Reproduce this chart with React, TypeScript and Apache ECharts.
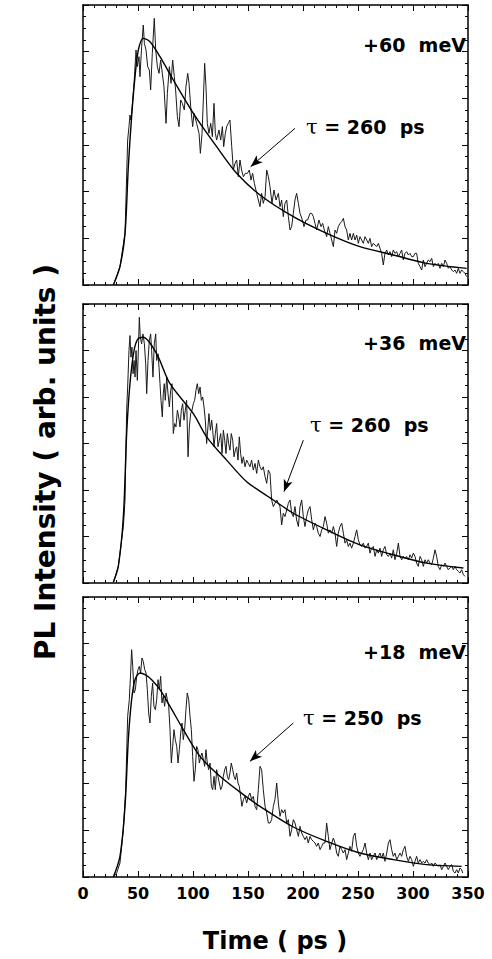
import React, { useEffect, useRef } from "react";
import * as echarts from "echarts";

// Axis ranges (time in ps, intensity in arbitrary units)
const X_MIN = 0;
const X_MAX = 350;
const X_STEP = 50;
const Y_MIN = 0;
const Y_MAX = 840;
const Y_STEP = 140;

const panelLabels = ["+60  meV", "+36  meV", "+18  meV"];
const tauLabels = ["260", "260", "250"];

// +60 meV : measured PL transient [time ps, intensity]
const data60: number[][] = [
  [27.6,0],[33.6,55],[38.2,155],[40.6,435],[41.8,475],[42.7,510],[43.6,495],[45.2,555],[46.4,605],[48.2,705],[49.4,655],[50.9,685],[51.8,625],[53.3,715],[54.8,780],[55.8,725],[57.3,705],[58.8,655],[60.3,645],[61.5,585],[63,695],[64.8,800],[66.1,705],[67.6,655],[69.1,635],[70.6,675],[72.1,635],[73.6,595],[75.5,485],[76.7,575],[78.5,655],[80,605],[81.5,675],[83,625],[84.2,585],[85.8,505],[87.3,475],[88.8,555],[90.3,545],[92.1,525],[93.6,595],[95.2,635],[96.4,605],[97.9,535],[99.7,475],[100.9,515],[103.3,485],[105.5,455],[106.7,395],[108.2,455],[109.4,555],[110.6,665],[111.8,595],[113,485],[114.5,455],[116.1,485],[117.6,445],[119.1,545],[120.3,455],[121.5,435],[123.6,465],[125.2,435],[126.7,475],[127.9,415],[129.4,455],[130.6,475],[132.1,485],[133.6,495],[135.2,415],[136.7,345],[138.2,365],[139.7,375],[141.2,325],[142.7,375],[144.2,345],[145.8,325],[147.6,335],[149.4,335],[151.2,345],[152.7,315],[154.2,335],[155.8,305],[157.9,275],[159.4,255],[160.9,235],[162.4,275],[163.9,245],[165.5,265],[167,345],[168.5,325],[170,295],[171.8,245],[173.6,285],[175.5,255],[177.6,275],[179.1,235],[180.6,255],[182.1,205],[183.6,245],[185.2,255],[186.7,205],[188.2,165],[189.7,175],[191.2,215],[192.7,255],[194.2,275],[195.8,245],[197.3,215],[199.4,195],[200.9,175],[202.7,195],[204.2,195],[206.4,215],[207.9,215],[209.4,205],[210.9,185],[212.4,165],[214.5,195],[216.4,175],[217.9,185],[219.4,165],[221.5,145],[223,175],[224.5,155],[226.1,135],[227.6,115],[229.1,165],[230.6,155],[232.1,175],[233.6,185],[235.2,190],[236.7,200],[238.2,175],[239.7,165],[241.2,135],[242.7,155],[244.2,135],[245.8,155],[247.3,135],[248.8,150],[250.3,125],[251.8,145],[253.3,135],[254.8,125],[256.4,145],[257.9,135],[259.4,125],[260.9,140],[262.4,115],[263.9,125],[265.5,120],[267,115],[268.5,125],[270,110],[271.5,95],[273,60],[274.5,95],[276.1,105],[277.6,90],[279.1,100],[280.6,85],[282.1,105],[283.6,95],[285.2,100],[286.7,85],[288.2,95],[289.7,105],[291.2,75],[292.7,95],[294.2,100],[295.8,90],[297.3,95],[298.8,85],[300.3,85],[301.8,95],[303.3,95],[304.8,65],[306.4,55],[307.9,45],[309.4,75],[310.9,55],[312.4,65],[313.9,75],[315.5,70],[317,80],[318.5,55],[320,65],[321.5,60],[323,65],[324.5,50],[326.1,65],[327.6,55],[329.1,75],[330.6,65],[332.1,50],[333.6,55],[335.2,45],[336.7,40],[338.2,45],[339.7,35],[341.2,50],[342.7,35],[344.2,45],[345.8,40],[347.3,35],[348.8,25]
];
const fit60: number[][] = [
  [27.6,0],[33.6,55],[38.2,155],[41.2,355],[44.2,505],[47.3,625],[50.3,705],[54.8,740],[60.9,730],[70,685],[82.1,615],[100.3,515],[121.5,415],[139.7,335],[160.9,270],[191.2,205],[221.5,155],[251.8,115],[282.1,90],[312.4,65],[348.8,50]
];

// +36 meV
const data36: number[][] = [
  [27.6,2],[32.1,50],[36.7,170],[38.2,250],[39.7,520],[40.6,590],[41.8,700],[42.7,745],[43.6,680],[44.5,710],[45.5,630],[46.4,670],[47.3,620],[48.2,700],[49.4,610],[50.6,730],[51.2,800],[52.1,740],[53.3,720],[54.5,750],[55.8,720],[57,660],[57.9,570],[59.1,670],[60.3,730],[61.5,750],[62.4,700],[63.6,620],[64.8,720],[66.1,750],[67,670],[68.2,690],[69.1,650],[70,600],[70.9,550],[72.1,500],[73,570],[73.9,600],[74.8,550],[76.1,620],[77.3,570],[78.5,530],[79.7,580],[80.9,600],[82.1,450],[83.3,480],[84.5,470],[85.8,520],[87,500],[88.2,470],[89.4,520],[90.6,540],[91.8,490],[93,520],[94.2,550],[95.5,380],[96.7,470],[97.9,510],[99.1,520],[100.3,540],[101.5,550],[102.7,580],[103.9,600],[105.2,570],[106.4,590],[107.6,550],[108.8,560],[110,530],[111.2,490],[112.4,420],[113.6,470],[114.5,510],[115.8,460],[117,490],[117.9,460],[119.1,410],[120.3,450],[121.5,480],[122.7,410],[123.9,430],[125.2,450],[126.4,390],[127.6,460],[128.8,430],[130,390],[131.2,450],[132.4,420],[133.6,400],[134.8,450],[136.1,430],[137.3,380],[138.5,400],[139.7,410],[140.9,370],[142.1,440],[143.3,390],[144.5,360],[145.8,380],[147.3,350],[148.8,370],[150.3,360],[151.8,350],[153.3,370],[154.8,340],[156.4,360],[157.9,330],[159.4,370],[160.9,350],[162.4,340],[163.9,350],[165.5,320],[167,300],[168.5,340],[170,330],[171.5,250],[173,230],[174.5,240],[176.1,250],[177.6,240],[179.1,230],[180.6,175],[182.1,210],[183.6,200],[185.2,220],[186.7,240],[188.2,250],[189.7,210],[191.2,200],[192.7,230],[194.2,190],[195.8,170],[197.3,230],[198.8,250],[200.3,200],[201.8,170],[203.3,200],[204.8,220],[206.4,230],[207.9,190],[209.4,160],[210.9,180],[212.4,170],[213.9,150],[215.5,140],[217,160],[218.5,170],[220,200],[221.5,180],[223,150],[224.5,160],[226.1,150],[227.6,170],[229.1,150],[230.6,110],[232.1,150],[233.6,170],[235.2,180],[236.7,150],[238.2,120],[239.7,130],[241.2,110],[242.7,120],[244.2,105],[245.8,120],[247.3,140],[248.8,160],[250.3,130],[251.8,115],[253.3,110],[254.8,120],[256.4,105],[257.9,110],[259.4,120],[260.9,90],[262.4,105],[263.9,110],[265.5,80],[267,100],[268.5,90],[270,105],[271.5,80],[273,100],[274.5,110],[276.1,85],[277.6,80],[279.1,90],[280.6,75],[282.1,100],[283.6,70],[285.2,90],[286.7,120],[288.2,80],[289.7,70],[291.2,80],[292.7,75],[294.2,80],[295.8,70],[297.3,85],[298.8,75],[300.3,90],[301.8,80],[303.3,60],[304.8,50],[306.4,80],[307.9,70],[309.4,50],[310.9,70],[312.4,60],[313.9,70],[315.5,60],[317,55],[318.5,75],[320,100],[321.5,80],[323,50],[324.5,40],[326.1,55],[327.6,50],[329.1,60],[330.6,50],[332.1,40],[333.6,45],[335.2,50],[336.7,40],[338.2,50],[339.7,40],[341.2,35],[342.7,30],[344.2,40],[345.8,25],[347.3,20]
];
const fit36: number[][] = [
  [27.6,2],[32.1,50],[36.7,200],[39.7,450],[42.7,600],[46.4,700],[50,735],[54.8,740],[67,690],[79.1,600],[100.3,510],[112.4,440],[130.6,370],[148.8,305],[173,250],[191.2,210],[221.5,160],[251.8,115],[282.1,85],[312.4,60],[345.8,45]
];

// +18 meV
const data18: number[][] = [
  [27.6,0],[30.6,12],[33.6,42],[36.7,142],[38.8,262],[40.6,482],[42.1,532],[43.3,612],[44.2,682],[45.2,632],[46.4,552],[47.6,562],[48.8,602],[50,622],[51.2,632],[52.4,612],[53.6,657],[54.8,647],[56.1,622],[57.3,612],[58.5,562],[59.7,492],[60.9,462],[62.1,542],[63.3,582],[64.5,512],[65.8,502],[67,532],[68.2,592],[69.4,562],[70.6,602],[71.8,522],[73,542],[74.2,512],[75.5,552],[76.7,532],[77.9,512],[79.1,442],[80.3,342],[81.5,392],[82.7,442],[83.9,412],[85.2,392],[86.4,342],[87.6,382],[88.8,432],[90,462],[91.2,412],[92.4,442],[93.6,502],[94.8,552],[96.1,532],[97.3,482],[98.5,442],[99.7,362],[100.9,287],[102.1,322],[103.3,392],[104.5,382],[105.8,342],[107,362],[108.2,372],[109.4,352],[110.6,332],[111.8,382],[113,342],[114.2,322],[115.5,342],[116.7,272],[117.9,262],[119.1,302],[120.3,262],[121.5,322],[122.7,302],[123.9,282],[125.2,262],[126.4,272],[127.6,302],[128.8,322],[130,332],[131.2,302],[132.4,292],[133.6,312],[134.8,342],[136.1,322],[137.3,302],[138.5,292],[139.7,312],[140.9,282],[142.1,272],[143.3,242],[144.5,212],[145.8,232],[147.3,242],[148.8,222],[150.3,242],[151.8,252],[153.3,232],[154.8,242],[156.4,212],[157.9,202],[159.4,262],[160.9,332],[162.4,322],[163.9,262],[165.5,212],[167,192],[168.5,162],[170,162],[171.5,172],[173,212],[174.5,232],[176.1,282],[177.6,222],[179.1,182],[180.6,202],[182.1,192],[183.6,202],[185.2,162],[186.7,172],[188.2,122],[189.7,142],[191.2,172],[192.7,162],[194.2,142],[195.8,122],[197.3,152],[198.8,132],[200.3,122],[201.8,112],[203.3,122],[204.8,102],[206.4,122],[207.9,112],[209.4,107],[210.9,102],[212.4,92],[213.9,102],[215.5,82],[217,92],[218.5,102],[220,102],[221.5,162],[223,122],[224.5,82],[226.1,102],[227.6,117],[229.1,102],[230.6,72],[232.1,62],[233.6,92],[235.2,82],[236.7,72],[238.2,82],[239.7,52],[241.2,72],[242.7,92],[244.2,77],[245.8,122],[247.3,132],[248.8,92],[250.3,72],[251.8,62],[253.3,72],[254.8,82],[256.4,102],[257.9,72],[259.4,52],[260.9,72],[262.4,52],[263.9,62],[265.5,72],[267,52],[268.5,62],[270,72],[271.5,57],[273,72],[274.5,47],[276.1,72],[277.6,102],[279.1,112],[280.6,82],[282.1,62],[283.6,72],[285.2,52],[286.7,62],[288.2,72],[289.7,62],[291.2,82],[292.7,92],[294.2,62],[295.8,47],[297.3,62],[298.8,52],[300.3,32],[301.8,47],[303.3,62],[304.8,42],[306.4,52],[307.9,42],[309.4,47],[310.9,42],[312.4,52],[313.9,42],[315.5,37],[317,42],[318.5,32],[320,42],[321.5,37],[323,32],[324.5,37],[326.1,22],[327.6,32],[329.1,42],[330.6,32],[332.1,22],[333.6,32],[335.2,37],[336.7,17],[338.2,12],[339.7,22],[341.2,12],[342.7,27],[344.2,22],[345.2,12]
];
const fit18: number[][] = [
  [27.6,0],[33.6,62],[38.2,212],[41.2,412],[44.2,532],[47.3,592],[51.8,612],[56.4,607],[62.4,592],[70,562],[79.1,512],[91.2,442],[106.4,362],[124.5,302],[145.8,247],[160.9,212],[191.2,150],[221.5,107],[251.8,72],[282.1,52],[312.4,37],[344.2,32]
];

// Arrow annotations: [from (label side), to (curve)]
const arrows: number[][][] = [
  [[192.7, 470], [152.4, 355]],
  [[200.3, 430], [182.7, 275]],
  [[191.2, 462], [151.8, 347]],
];

const measured = [data60, data36, data18];
const fits = [fit60, fit36, fit18];

const FONT = "DejaVu Sans";

export default function App() {
  const ref = useRef<HTMLDivElement>(null);

  useEffect(() => {
    if (!ref.current) return;
    const chart = echarts.init(ref.current, null, { renderer: "svg" });

    const grids = [
      { left: 83, width: 385, top: 5, height: 280 },
      { left: 83, width: 385, top: 304, height: 279 },
      { left: 83, width: 385, top: 597, height: 280 },
    ];

    const line = { show: true, lineStyle: { color: "#000", width: 1.5 } };
    const tick = { show: true, inside: true, length: 6, lineStyle: { color: "#000", width: 1 } };

    const xAxes: any[] = [];
    const yAxes: any[] = [];
    grids.forEach((_, i) => {
      ["bottom", "top"].forEach((pos) => {
        xAxes.push({
          type: "value",
          gridIndex: i,
          position: pos,
          min: X_MIN,
          max: X_MAX,
          interval: X_STEP,
          axisLine: { ...line, onZero: false },
          axisTick: tick,
          minorTick: { show: true, splitNumber: 5, length: 3, lineStyle: { color: "#000", width: 1 } },
          splitLine: { show: false },
          axisLabel: {
            show: pos === "bottom" && i === 2,
            color: "#000",
            fontFamily: FONT,
            fontWeight: "bold",
            fontSize: 16,
            margin: 8,
          },
        });
      });
      ["left", "right"].forEach((pos) => {
        yAxes.push({
          type: "value",
          gridIndex: i,
          position: pos,
          min: Y_MIN,
          max: Y_MAX,
          interval: Y_STEP,
          axisLine: { ...line, onZero: false },
          axisTick: tick,
          minorTick: { show: true, splitNumber: 4, length: 3, lineStyle: { color: "#000", width: 1 } },
          splitLine: { show: false },
          axisLabel: { show: false },
        });
      });
    });

    const series: any[] = [];
    grids.forEach((_, i) => {
      series.push({
        type: "line",
        xAxisIndex: 2 * i,
        yAxisIndex: 2 * i,
        data: measured[i],
        showSymbol: false,
        symbol: "none",
        lineStyle: { color: "#1a1a1a", width: 1 },
        z: 2,
      });
      series.push({
        type: "line",
        xAxisIndex: 2 * i,
        yAxisIndex: 2 * i,
        data: fits[i],
        showSymbol: false,
        symbol: "none",
        smooth: 0.3,
        lineStyle: { color: "#000", width: 1.4 },
        z: 3,
        markLine: {
          silent: true,
          symbol: ["none", "arrow"],
          symbolSize: [7, 12],
          label: { show: false },
          lineStyle: { color: "#000", width: 1, type: "solid" },
          data: [[{ coord: arrows[i][0] }, { coord: arrows[i][1] }]],
        },
      });
    });

    const labelY = [45, 343, 652];
    const tauY = [127, 425, 718];
    const tauX = [306, 310, 303];

    const graphic: any[] = [];
    labelY.forEach((y, i) => {
      graphic.push({
        type: "text",
        x: 466,
        y,
        style: {
          text: panelLabels[i],
          fill: "#000",
          fontFamily: FONT,
          fontWeight: "bold",
          fontSize: 19,
          align: "right",
          verticalAlign: "middle",
        },
      });
      graphic.push({
        type: "text",
        x: tauX[i],
        y: tauY[i],
        style: {
          text: "{t|τ} = " + tauLabels[i] + "  ps",
          fill: "#000",
          fontFamily: FONT,
          fontWeight: "bold",
          fontSize: 19,
          align: "left",
          verticalAlign: "middle",
          rich: {
            t: { fontFamily: "DejaVu Serif", fontWeight: "normal", fontSize: 21, fill: "#000" },
          },
        },
      });
    });
    graphic.push({
      type: "text",
      x: 45,
      y: 462,
      rotation: Math.PI / 2,
      style: {
        text: "PL Intensity ( arb. units )",
        fill: "#000",
        fontFamily: FONT,
        fontWeight: "bold",
        fontSize: 28,
        align: "center",
        verticalAlign: "middle",
      },
    });
    graphic.push({
      type: "text",
      x: 275,
      y: 941,
      style: {
        text: "Time ( ps )",
        fill: "#000",
        fontFamily: FONT,
        fontWeight: "bold",
        fontSize: 24,
        align: "center",
        verticalAlign: "middle",
      },
    });

    chart.setOption({
      animation: false,
      backgroundColor: "#fff",
      grid: grids,
      xAxis: xAxes,
      yAxis: yAxes,
      series,
      graphic,
    });

    return () => chart.dispose();
  }, []);

  return (
    <div
      ref={ref}
      style={{ position: "absolute", left: 0, top: 0, width: 492, height: 959, background: "#fff" }}
    />
  );
}
